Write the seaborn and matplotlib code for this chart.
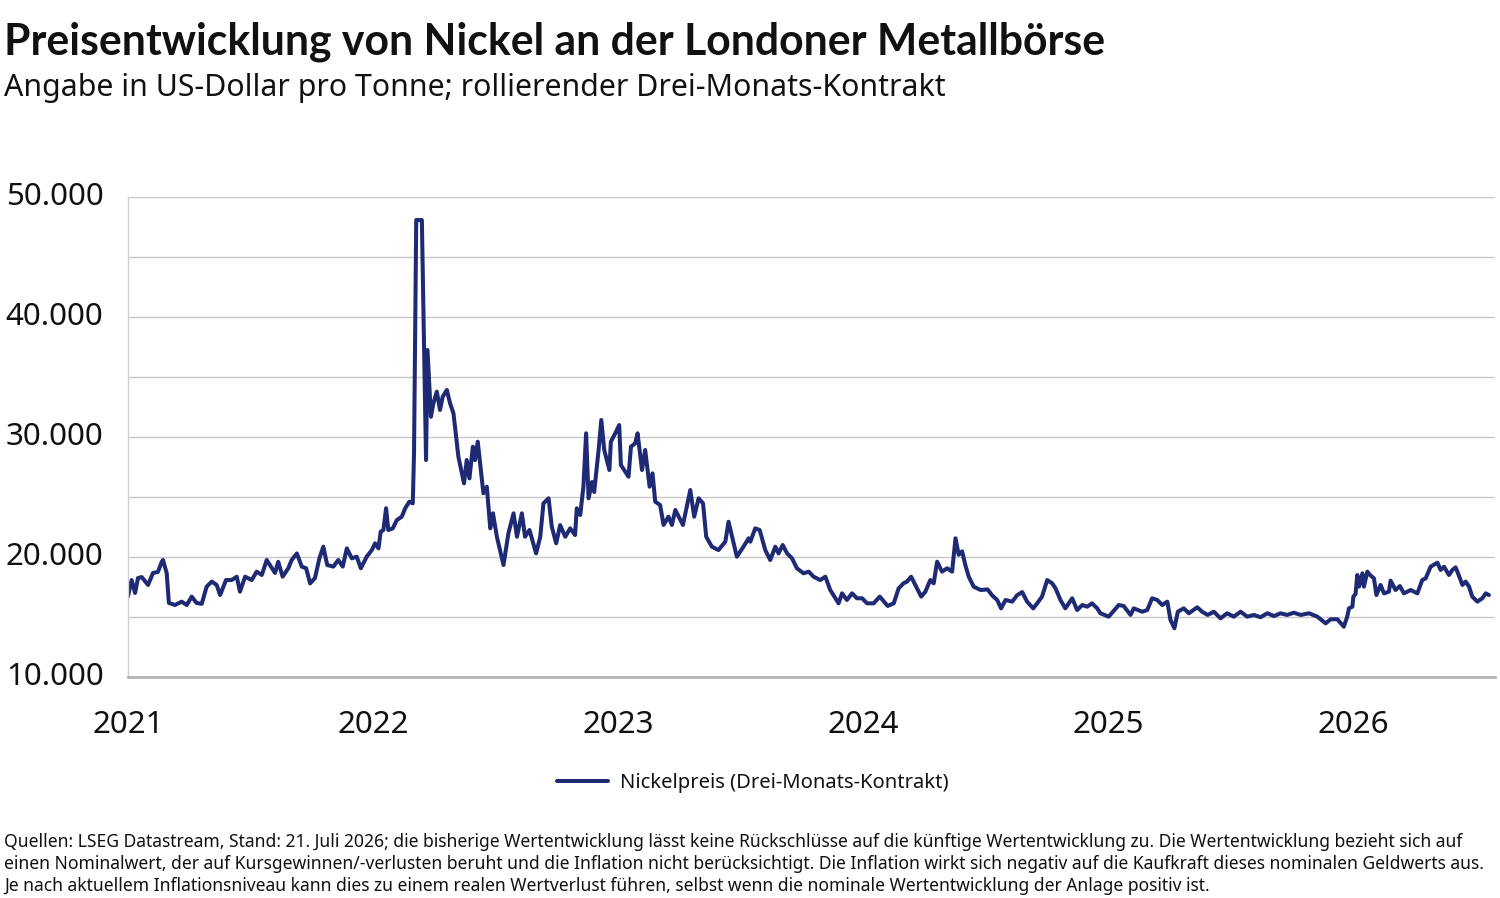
import pandas as pd
import numpy as np
import seaborn as sns
import matplotlib.pyplot as plt
import matplotlib.ticker as mticker

# Nickel price (3-month contract)
years = [
    2021.000, 2021.015, 2021.029, 2021.041, 2021.056, 2021.082, 2021.102, 2021.122, 2021.138, 2021.143,
    2021.158, 2021.167, 2021.192, 2021.219, 2021.240, 2021.260, 2021.280, 2021.301, 2021.321, 2021.342,
    2021.362, 2021.376, 2021.400, 2021.423, 2021.444, 2021.457, 2021.478, 2021.505, 2021.525, 2021.546,
    2021.566, 2021.600, 2021.613, 2021.631, 2021.654, 2021.668, 2021.689, 2021.709, 2021.727, 2021.743,
    2021.763, 2021.781, 2021.797, 2021.813, 2021.838, 2021.858, 2021.876, 2021.893, 2021.913, 2021.933,
    2021.950, 2021.974, 2021.995, 2022.008, 2022.022, 2022.031, 2022.042, 2022.053, 2022.062, 2022.080,
    2022.097, 2022.117, 2022.131, 2022.148, 2022.162, 2022.167, 2022.176, 2022.199, 2022.208, 2022.216,
    2022.222, 2022.236, 2022.246, 2022.260, 2022.273, 2022.284, 2022.301, 2022.314, 2022.328, 2022.348,
    2022.371, 2022.382, 2022.393, 2022.407, 2022.416, 2022.427, 2022.450, 2022.464, 2022.478, 2022.489,
    2022.505, 2022.532, 2022.552, 2022.573, 2022.587, 2022.607, 2022.620, 2022.638, 2022.665, 2022.682,
    2022.695, 2022.716, 2022.729, 2022.747, 2022.763, 2022.784, 2022.804, 2022.824, 2022.831, 2022.845,
    2022.858, 2022.869, 2022.879, 2022.893, 2022.902, 2022.920, 2022.931, 2022.943, 2022.964, 2022.970,
    2022.988, 2023.004, 2023.011, 2023.042, 2023.052, 2023.069, 2023.079, 2023.097, 2023.110, 2023.128,
    2023.140, 2023.151, 2023.171, 2023.185, 2023.205, 2023.219, 2023.233, 2023.264, 2023.294, 2023.310,
    2023.328, 2023.346, 2023.359, 2023.382, 2023.409, 2023.437, 2023.450, 2023.484, 2023.511, 2023.532,
    2023.539, 2023.559, 2023.577, 2023.600, 2023.620, 2023.641, 2023.654, 2023.671, 2023.689, 2023.709,
    2023.729, 2023.756, 2023.777, 2023.797, 2023.824, 2023.845, 2023.865, 2023.886, 2023.899, 2023.913,
    2023.933, 2023.954, 2023.974, 2023.995, 2024.015, 2024.042, 2024.067, 2024.099, 2024.124, 2024.144,
    2024.164, 2024.178, 2024.195, 2024.212, 2024.236, 2024.253, 2024.273, 2024.287, 2024.301, 2024.321,
    2024.342, 2024.362, 2024.376, 2024.389, 2024.403, 2024.416, 2024.430, 2024.450, 2024.478, 2024.507,
    2024.525, 2024.546, 2024.562, 2024.580, 2024.607, 2024.627, 2024.648, 2024.668, 2024.693, 2024.709,
    2024.729, 2024.750, 2024.770, 2024.784, 2024.804, 2024.824, 2024.852, 2024.872, 2024.893, 2024.913,
    2024.933, 2024.954, 2024.967, 2025.001, 2025.042, 2025.062, 2025.090, 2025.103, 2025.138, 2025.158,
    2025.178, 2025.199, 2025.219, 2025.240, 2025.253, 2025.269, 2025.283, 2025.307, 2025.328, 2025.362,
    2025.382, 2025.405, 2025.430, 2025.457, 2025.484, 2025.511, 2025.539, 2025.566, 2025.593, 2025.620,
    2025.648, 2025.675, 2025.702, 2025.729, 2025.756, 2025.784, 2025.818, 2025.852, 2025.886, 2025.906,
    2025.934, 2025.960, 2025.974, 2025.981, 2025.995, 2025.999, 2026.008, 2026.015, 2026.022, 2026.036,
    2026.042, 2026.056, 2026.067, 2026.083, 2026.093, 2026.110, 2026.124, 2026.144, 2026.151, 2026.171,
    2026.189, 2026.205, 2026.233, 2026.260, 2026.280, 2026.294, 2026.314, 2026.342, 2026.355, 2026.369,
    2026.389, 2026.403, 2026.416, 2026.426, 2026.444, 2026.457, 2026.471, 2026.484, 2026.505, 2026.525,
    2026.539, 2026.552,
]
prices = [
    16700, 18080, 17000, 18250, 18330, 17670, 18670, 18750, 19600, 19750,
    18670, 16170, 16000, 16280, 16000, 16700, 16170, 16100, 17530, 17950,
    17670, 16830, 18080, 18080, 18360, 17110, 18360, 18080, 18780, 18500,
    19750, 18670, 19600, 18360, 19060, 19750, 20300, 19200, 19060, 17800,
    18250, 19890, 20860, 19330, 19200, 19750, 19200, 20720, 19890, 20030,
    19060, 20030, 20580, 21140, 20720, 22110, 22250, 24060, 22250, 22380,
    23080, 23360, 24060, 24610, 24470, 28640, 48080, 48080, 37530, 28080,
    37250, 31690, 32810, 33780, 32250, 33360, 33920, 32810, 31970, 28360,
    26140, 28080, 26550, 29190, 28080, 29610, 25310, 25860, 22390, 23640,
    21690, 19330, 21970, 23640, 21690, 23640, 21690, 22250, 20300, 21690,
    24470, 24890, 22530, 21140, 22660, 21690, 22390, 21830, 24060, 23500,
    25860, 30310, 24890, 26250, 25420, 28920, 31420, 28920, 27250, 29610,
    30310, 31000, 27670, 26690, 29190, 29470, 30310, 27250, 28920, 25860,
    26970, 24610, 24330, 22670, 23360, 22670, 23920, 22670, 25580, 23360,
    24890, 24470, 21690, 20860, 20580, 21280, 22940, 20030, 20860, 21560,
    21280, 22390, 22250, 20580, 19750, 20860, 20300, 21000, 20300, 19890,
    19060, 18640, 18780, 18360, 18080, 18360, 17250, 16560, 16140, 16970,
    16420, 16970, 16560, 16560, 16140, 16140, 16700, 15920, 16140, 17390,
    17810, 17950, 18360, 17670, 16700, 17110, 18080, 17810, 19610, 18780,
    19060, 18780, 21560, 20190, 20470, 19330, 18360, 17530, 17250, 17300,
    16810, 16420, 15720, 16420, 16280, 16810, 17080, 16280, 15720, 16140,
    16700, 18080, 17810, 17390, 16420, 15720, 16560, 15580, 16000, 15860,
    16140, 15720, 15310, 15030, 16000, 15920, 15170, 15720, 15440, 15580,
    16560, 16420, 16000, 16280, 14750, 14060, 15440, 15720, 15310, 15810,
    15440, 15170, 15440, 14890, 15310, 15030, 15440, 15030, 15170, 14980,
    15310, 15080, 15310, 15170, 15360, 15170, 15310, 15030, 14470, 14810,
    14810, 14190, 15030, 15720, 15860, 16700, 16920, 18500, 17530, 18640,
    17530, 18780, 18500, 18220, 16830, 17670, 16970, 17110, 18030, 17250,
    17580, 16970, 17250, 16970, 18080, 18220, 19190, 19530, 18920, 19190,
    18500, 18920, 19140, 18640, 17670, 17950, 17530, 16700, 16280, 16560,
    16970, 16830,
]
x_ticks = ["2021", "2022", "2023", "2024", "2025", "2026"]
y_ticks = [10000, 20000, 30000, 40000, 50000]

title = "Preisentwicklung von Nickel an der Londoner Metallbörse"
subtitle = "Angabe in US-Dollar pro Tonne; rollierender Drei-Monats-Kontrakt"
series_name = "Nickelpreis (Drei-Monats-Kontrakt)"
footnote = (
    "Quellen: LSEG Datastream, Stand: 21. Juli 2026; die bisherige Wertentwicklung lässt keine Rückschlüsse auf die künftige Wertentwicklung zu. Die Wertentwicklung bezieht sich auf\n"
    "einen Nominalwert, der auf Kursgewinnen/-verlusten beruht und die Inflation nicht berücksichtigt. Die Inflation wirkt sich negativ auf die Kaufkraft dieses nominalen Geldwerts aus.\n"
    "Je nach aktuellem Inflationsniveau kann dies zu einem realen Wertverlust führen, selbst wenn die nominale Wertentwicklung der Anlage positiv ist."
)

start = pd.Timestamp("2021-01-01")
df = pd.DataFrame({
    "date": start + pd.to_timedelta((np.array(years) - 2021) * 365.25, unit="D"),
    "price": prices,
    "series": series_name,
})

sns.set_theme(style="white")
plt.rcParams["font.family"] = ["Noto Sans", "DejaVu Sans"]

fig = plt.figure(figsize=(15, 8.98), dpi=100)
ax = fig.add_axes([0.0853, 0.2461, 0.9114, 0.5345])

line_color = "#1f2a74"
sns.lineplot(data=df, x="date", y="price", hue="series", palette=[line_color],
             linewidth=2.9, ax=ax, legend=True)

ax.set_ylim(10000, 50000)
ax.set_xlim(start, pd.Timestamp("2026-07-31"))
ax.yaxis.set_major_locator(mticker.FixedLocator(y_ticks))
ax.yaxis.set_minor_locator(mticker.MultipleLocator(5000))
ax.yaxis.set_major_formatter(mticker.FuncFormatter(lambda v, p: f"{int(v):,}".replace(",", ".")))
ax.set_xticks([pd.Timestamp(f"{y}-01-01") for y in x_ticks])
ax.set_xticklabels(x_ticks)
ax.grid(axis="y", which="both", color="#c8c8c8", linewidth=1)
ax.set_xlabel("")
ax.set_ylabel("")

for s in ["top", "right"]:
    ax.spines[s].set_visible(False)
ax.spines["left"].set_color("#d0d0d0")
ax.spines["left"].set_linewidth(1)
ax.spines["bottom"].set_color("#b4b4b4")
ax.spines["bottom"].set_linewidth(2)

ax.tick_params(axis="both", which="both", length=0, labelsize=22.5, colors="#111111")
ax.tick_params(axis="y", pad=88)
for lbl in ax.get_yticklabels():
    lbl.set_horizontalalignment("left")
    lbl.set_verticalalignment("center")
ax.tick_params(axis="x", pad=24)

fig.text(0.003, 0.953, title, fontsize=30.8, fontweight="bold", ha="left", va="center",
         color="#111111", family=["Lato", "DejaVu Sans"])
fig.text(0.003, 0.902, subtitle, fontsize=21.8, ha="left", va="center", color="#111111")

ax.legend(loc="center", bbox_to_anchor=(0.502, 0.128), bbox_transform=fig.transFigure,
          frameon=False, fontsize=14.5, handlelength=2.5, handletextpad=0.6,
          labelcolor="#111111")

fig.text(0.003, 0.038, footnote, fontsize=12.6, ha="left", va="center",
         color="#111111", linespacing=1.3)

fig.savefig("out.png", dpi=100)
